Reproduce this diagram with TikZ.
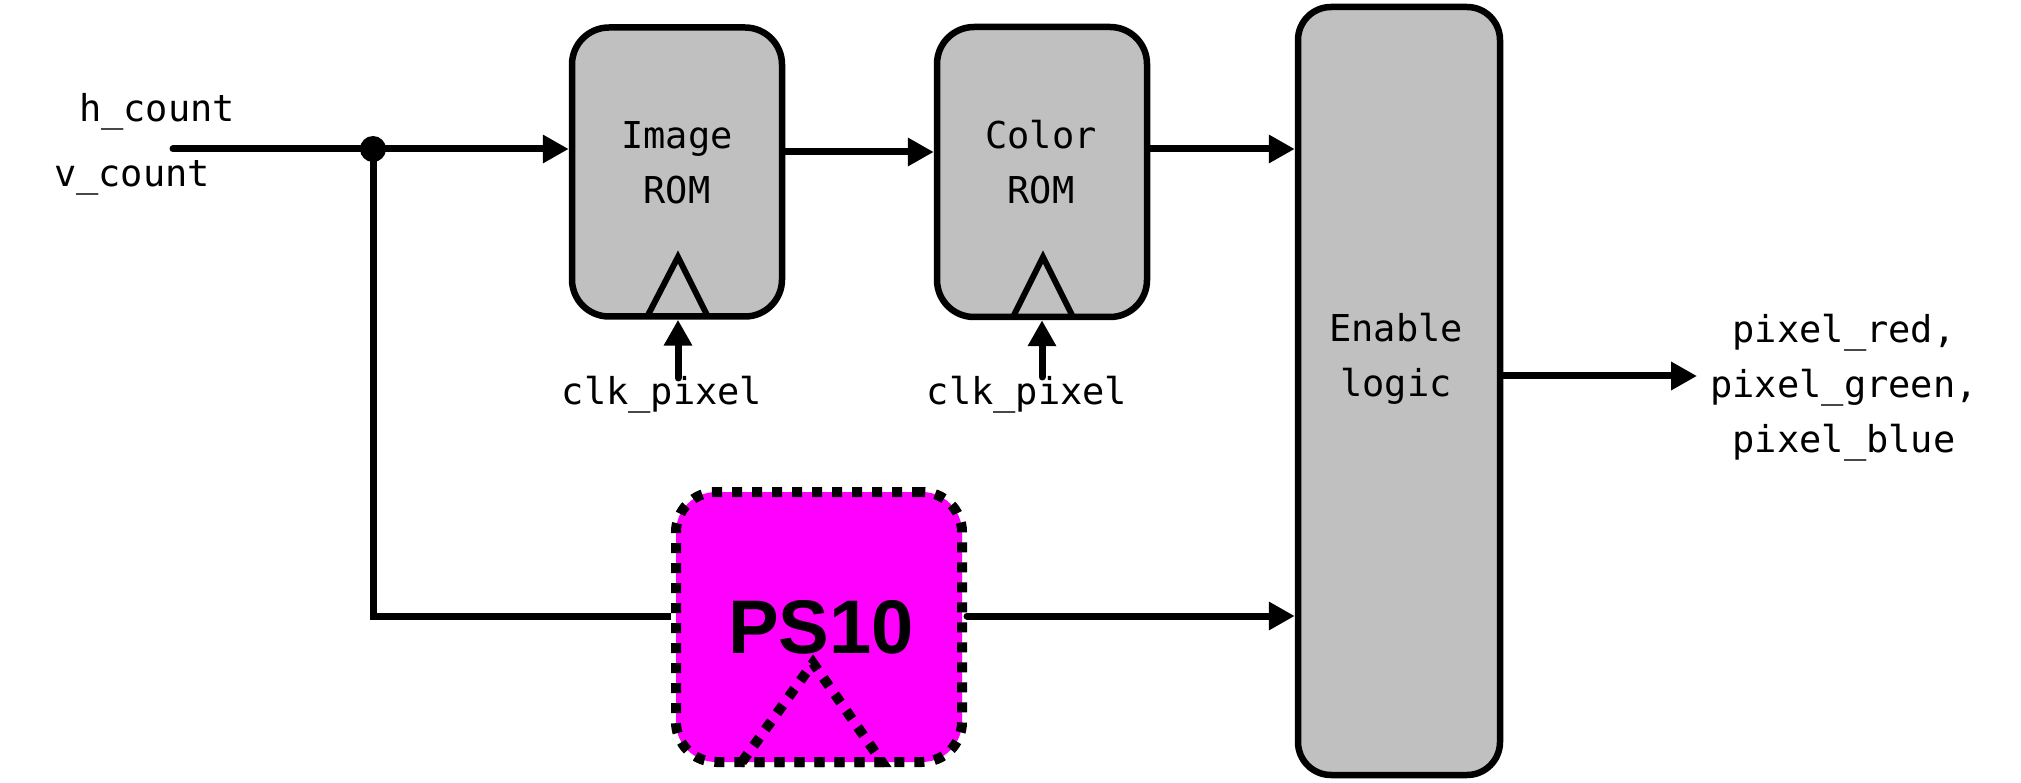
\documentclass[tikz,border=0pt]{standalone}
\usepackage{fontspec}
\usetikzlibrary{arrows.meta}
\newfontfamily\monofnt{DejaVu Sans Mono}
\newfontfamily\psfnt{Liberation Sans}
\definecolor{romgray}{RGB}{192,192,192}
\definecolor{psmag}{RGB}{255,0,255}
\begin{document}
\begin{tikzpicture}[x=1pt,y=-1pt,
  blockbox/.style={draw=black, fill=romgray, line width=6.5pt, rounded corners=37pt, inner sep=0pt},
  wire/.style={line width=7pt, line cap=round},
  arr/.style={-{Triangle[length=26pt,width=27pt]}},
  lbl/.style={font=\monofnt\fontsize{37}{55}\selectfont, inner sep=0pt, align=center},
  clkmark/.style={line width=6pt, line join=miter},
  dotline/.style={line width=10pt, line cap=butt, dash pattern=on 10pt off 10pt},
  jdot/.style={circle, fill=black, minimum size=26pt, inner sep=0pt}
]
\fill[white] (0,0) rectangle (2021,783);
\useasboundingbox (0,0) rectangle (2021,783);

% blocks
\node[blockbox, minimum width=210pt, minimum height=289pt] (iRom) at (677,172) {};
\node[blockbox, minimum width=210pt, minimum height=290pt] (cRom) at (1042,172) {};
\node[blockbox, rounded corners=33pt, minimum width=202pt, minimum height=768pt] (en) at (1399,391) {};
\node[draw=black, fill=psmag, dotline, rounded corners=40pt, minimum width=286pt, minimum height=270pt, inner sep=0pt] (ps) at (819,627) {};

% clock marks
\draw[clkmark] (647,317) -- (678,257) -- (708,317);
\draw[clkmark] (1013,317) -- (1043,257) -- (1073,317);
\draw[dotline, line join=miter] (742,762) -- (813,663) -- (882,762) -- cycle;

% block texts
\node[lbl, anchor=north] (iRomT) at (677,121) {Image\\ROM};
\node[lbl, anchor=north] (cRomT) at (1041,120) {Color\\ROM};
\node[lbl, anchor=north] (enT) at (1396,313) {Enable\\logic};
\node[font=\psfnt\bfseries\fontsize{76}{80}\selectfont, inner sep=0pt, anchor=base] (psT) at (821,653) {PS10};

% signal labels
\node[lbl, anchor=base] (hc) at (157,122) {h\_count};
\node[lbl, anchor=base] (vc) at (132,187) {v\_count};
\node[lbl, anchor=base] (clk1) at (662,405) {clk\_pixel};
\node[lbl, anchor=base] (clk2) at (1027,405) {clk\_pixel};
\node[lbl, anchor=north] (outT) at (1844,314) {pixel\_red,\\pixel\_green,\\pixel\_blue};

% connectors
\coordinate (inL) at (173,149);
\node[jdot] (j) at (373,149) {};
\draw[wire, arr] (inL) -- (inL -| iRom.west);
\draw[wire, arr] ([yshift=20pt]iRom.east) -- ([yshift=20pt]cRom.west);
\coordinate (c1) at ([yshift=23pt]cRom.east);
\draw[wire, arr] (c1) -- (c1 -| en.west);
\coordinate (pl) at ([yshift=11pt]ps.west);
\coordinate (pr) at ([yshift=11pt]ps.east);
\draw[wire, line cap=butt] (j.center) |- (pl);
\draw[wire, arr] (pr) -- (pr -| en.west);
\coordinate (oe) at ([yshift=15pt]en.east);
\coordinate (out) at (1697,376);
\draw[wire, arr] (oe) -- (out);
\coordinate (ck1) at (678,378);
\coordinate (ck2) at (1042,377);
\draw[wire, arr] (ck1) -- (ck1 |- iRom.south);
\draw[wire, arr] (ck2) -- (ck2 |- cRom.south);
\end{tikzpicture}
\end{document}
